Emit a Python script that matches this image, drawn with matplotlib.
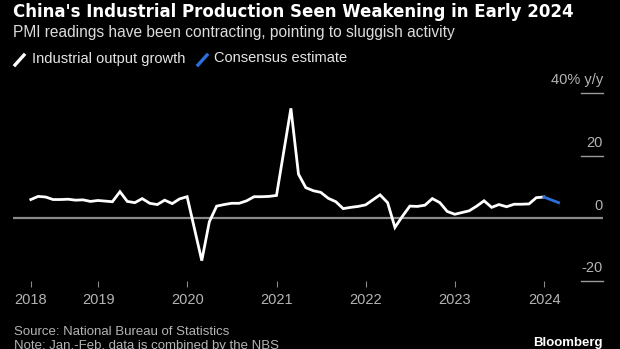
import matplotlib
matplotlib.use("Agg")
import matplotlib.pyplot as plt
from matplotlib.lines import Line2D
import pandas as pd

# industrial output, % y/y, Mar 2018 - Dec 2023 (Jan-Feb is one combined reading, dated Feb)
output_growth = [
    6.0, 7.0, 6.8, 6.0, 6.0, 6.1, 5.8, 5.9, 5.4, 5.7,            # 2018 Mar-Dec
    5.3, 8.5, 5.4, 5.0, 6.3, 4.8, 4.4, 5.8, 4.7, 6.2, 6.9,       # 2019
    -13.5, -1.1, 3.9, 4.4, 4.8, 4.8, 5.6, 6.9, 6.9, 7.0, 7.3,    # 2020
    35.1, 14.1, 9.8, 8.8, 8.3, 6.4, 5.3, 3.1, 3.5, 3.8, 4.3,     # 2021
    7.5, 5.0, -2.9, 0.7, 3.9, 3.8, 4.2, 6.3, 5.0, 2.2, 1.3,      # 2022
    2.4, 3.9, 5.6, 3.5, 4.4, 3.7, 4.5, 4.5, 4.6, 6.6, 6.8,       # 2023
]
consensus_dates = ["2023-12-31", "2024-02-29"]
consensus = [6.8, 5.0]

year_ticks = ["2018-03-31", "2019-01-01", "2020-01-01", "2021-01-01",
              "2022-01-01", "2023-01-01", "2024-01-01"]
year_labels = ["2018", "2019", "2020", "2021", "2022", "2023", "2024"]
y_ticks = [40, 20, 0, -20]
y_labels = ["40% y/y", "20", "0", "-20"]

months = pd.date_range("2018-03-31", "2023-12-31", freq="ME")
months = months[months.month != 1]

sans = ["Liberation Sans", "DejaVu Sans"]
white = "#ffffff"
grey = "#b4b4b4"
blue = "#2a6fdc"

fig = plt.figure(figsize=(6.2, 3.49), dpi=100, facecolor="black")
W, H = 620, 349

ax = fig.add_axes([13 / W, 68 / H, 590 / W, 188 / H])
ax.set_facecolor("black")
for s in ax.spines.values():
    s.set_visible(False)

ax.set_ylim(-20, 40)
ax.set_xlim(pd.Timestamp("2018-01-17"), pd.Timestamp("2024-08-29"))

# zero line across, short grid stubs under the right-hand labels
ax.axhline(0, color="#8a8a8a", lw=1.6, zorder=1)
for v, lab in zip(y_ticks, y_labels):
    if v != 0:
        ax.plot([0.963, 1.0], [v, v], transform=ax.get_yaxis_transform(),
                color="#9a9a9a", lw=1.0, clip_on=False)
    ax.annotate(lab, (1.0, v), xycoords=ax.get_yaxis_transform(),
                xytext=(0, 4), textcoords="offset points", ha="right", va="bottom",
                color=grey, fontsize=10.5, family=sans)
ax.set_yticks([])

ax.plot(months, output_growth, color=white, lw=2.0, zorder=3,
        solid_joinstyle="miter")
ax.plot(pd.to_datetime(consensus_dates), consensus, color=blue, lw=2.0, zorder=3)

ax.set_xticks(pd.to_datetime(year_ticks))
ax.set_xticklabels(year_labels)
ax.tick_params(axis="x", direction="out", length=4.5, width=0.8, color="#8a8a8a",
               pad=4, labelcolor=grey, labelsize=10.5)
for t in ax.get_xticklabels():
    t.set_family(sans)

# header
fig.text(13 / W, 1 - 12 / H, "China's Industrial Production Seen Weakening in Early 2024",
         color=white, fontsize=12, fontweight="bold", family="DejaVu Sans", va="center")
fig.text(13 / W, 1 - 32 / H, "PMI readings have been contracting, pointing to sluggish activity",
         color="#dcdcdc", fontsize=11.2, family=sans, va="center")

# legend
fig.add_artist(Line2D([15 / W, 24 / W], [1 - 65 / H, 1 - 55 / H], color=white, lw=2.4))
fig.text(32 / W, 1 - 58.5 / H, "Industrial output growth", color="#e6e6e6",
         fontsize=10.5, family=sans, va="center")
fig.add_artist(Line2D([198 / W, 207 / W], [1 - 65 / H, 1 - 55 / H], color=blue, lw=2.4))
fig.text(214 / W, 1 - 58.5 / H, "Consensus estimate", color="#e6e6e6",
         fontsize=10.5, family=sans, va="center")

# footer
fig.text(14 / W, 1 - 332 / H, "Source: National Bureau of Statistics", color=grey,
         fontsize=9.5, family=sans, va="center")
fig.text(14 / W, 1 - 346 / H, "Note: Jan.-Feb. data is combined by the NBS", color=grey,
         fontsize=9.5, family=sans, va="center")
fig.text(603 / W, 1 - 343 / H, "Bloomberg", color=white, fontsize=9.5,
         fontweight="bold", family="Liberation Sans", ha="right", va="center")

fig.savefig("out.png", dpi=100, facecolor="black")
